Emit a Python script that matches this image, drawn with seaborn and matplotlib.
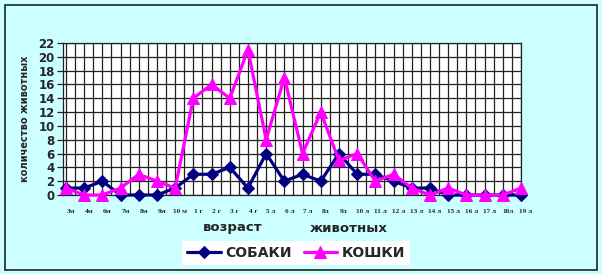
import matplotlib
matplotlib.use("Agg")
import matplotlib.pyplot as plt
import seaborn as sns
import pandas as pd
import numpy as np
from matplotlib.patches import Rectangle

ages = ["3м", "4м", "6м", "7м", "8м", "9м", "10 м", "1 г", "2 г", "3 г", "4 г",
        "5 л", "6 л", "7 л", "8л", "9л", "10 л", "11 л", "12 л", "13 л", "14 л",
        "15 л", "16 л", "17 л", "18л", "19 л"]
dogs = [1, 1, 2, 0, 0, 0, 1, 3, 3, 4, 1, 6, 2, 3, 2, 6, 3, 3, 2, 1, 1, 0, 0, 0, 0, 0]
cats = [1, 0, 0, 1, 3, 2, 1, 14, 16, 14, 21, 8, 17, 6, 12, 5, 6, 2, 3, 1, 0, 1, 0, 0, 0, 1]
y_ticks = list(range(0, 23, 2))

sns.set_theme(style="white")
plt.rcParams['font.family'] = ['DejaVu Sans']

bg = "#CCFFFF"
fig = plt.figure(figsize=(6.02, 2.74), dpi=100, facecolor=bg)
ax = fig.add_axes([63/602, 1-195/274, (521-63)/602, (195-43)/274])
ax.set_facecolor("white")

df = pd.DataFrame({"pos": np.arange(len(ages)), "СОБАКИ": dogs, "КОШКИ": cats})

sns.lineplot(data=df, x="pos", y="СОБАКИ", ax=ax, color="#000080", lw=2.3,
             marker="D", markersize=6.5, markeredgecolor="#000080", sort=False,
             label="СОБАКИ", clip_on=False, zorder=4)
sns.lineplot(data=df, x="pos", y="КОШКИ", ax=ax, color="#FF00FF", lw=2.3,
             marker="^", markersize=9, markeredgecolor="#FF00FF", sort=False,
             label="КОШКИ", clip_on=False, zorder=5)

n = len(ages)
ax.set_xlim(-0.16, n - 1)
ax.set_ylim(0, 22)
# grid
for xv in np.arange(0, n - 0.99, 0.5):
    ax.axvline(xv, color="#222222", lw=0.9, zorder=1)
for yv in y_ticks:
    ax.axhline(yv, color="#222222", lw=0.9, zorder=1)

for s in ax.spines.values():
    s.set_color("#222222")
    s.set_linewidth(0.9)

ax.set_yticks(y_ticks)
ax.set_yticklabels([str(v) for v in y_ticks], fontsize=8.5, fontweight="bold")
ax.tick_params(axis="y", direction="out", length=4, width=0.9, color="#222222", pad=2, left=True)
ax.set_xticks(np.arange(n))
ax.set_xticklabels([])
ax.tick_params(axis="x", length=0)
for i, lab in enumerate(ages):
    ax.annotate(lab, xy=(i, 0), xycoords="data", xytext=(3.6, -12), textcoords="offset points",
                ha="center", va="center", fontsize=5.2, fontweight="bold",
                family="Liberation Serif", annotation_clip=False)

ax.set_xlabel("")
ax.set_ylabel("количество животных", fontsize=7, fontweight="bold", labelpad=10)
ax.yaxis.set_label_coords(-0.072, 0.5)

fig.text(233/602, 1-228/274, "возраст", ha="center", va="center", fontsize=9.5, fontweight="bold")
fig.text(349/602, 1-228/274, "животных", ha="center", va="center", fontsize=9.5, fontweight="bold")

leg = ax.legend(loc="center", bbox_to_anchor=(296/602, 1-253/274), bbox_transform=fig.transFigure,
                ncol=2, frameon=True, fancybox=False, framealpha=1, edgecolor="white",
                prop={"weight": "bold", "size": 10}, handlelength=2.4, handletextpad=0.3,
                columnspacing=0.9, borderpad=0.35, borderaxespad=0)
leg.get_frame().set_linewidth(0)

fig.patches.append(Rectangle((5/602, 4/274), 592/602, 265/274, transform=fig.transFigure,
                             fill=False, edgecolor="#222222", lw=1.2))

fig.savefig("out.png", dpi=100, facecolor=bg)
